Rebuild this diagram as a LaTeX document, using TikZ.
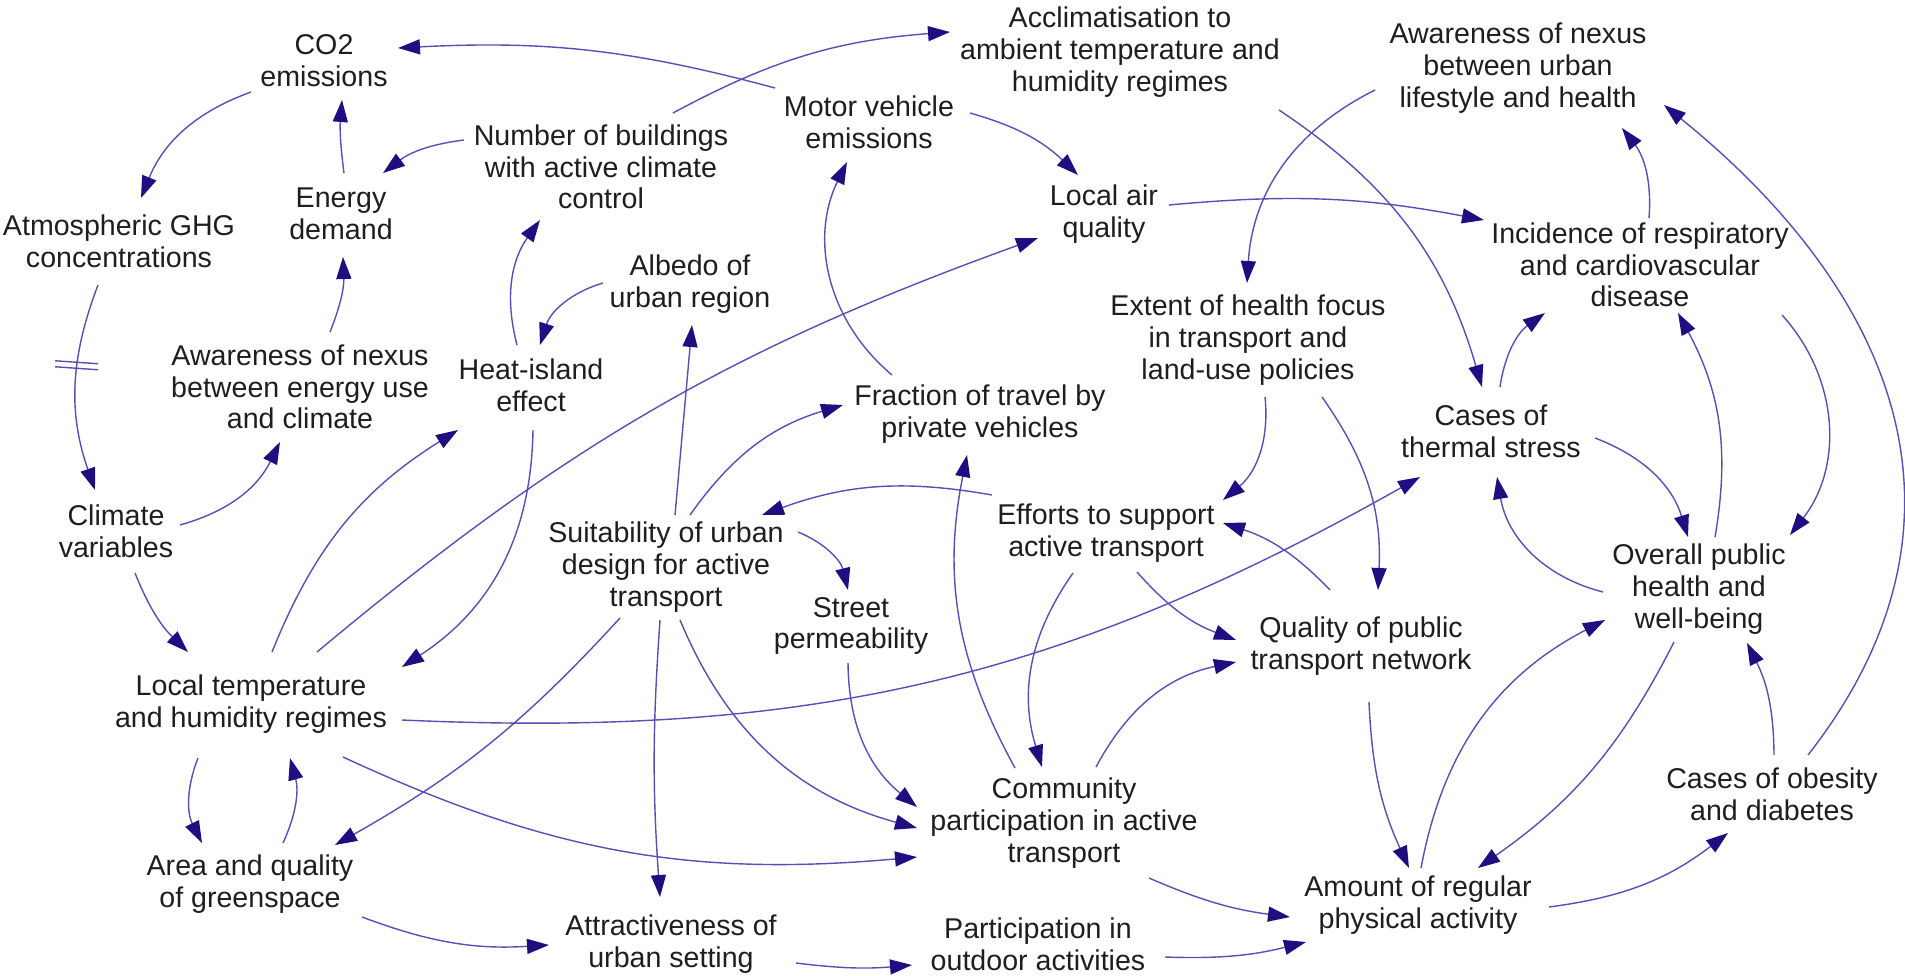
\documentclass[tikz,border=0pt]{standalone}
\usepackage{fontspec}
\setmainfont{Liberation Sans}
\usetikzlibrary{arrows.meta}
\definecolor{linec}{RGB}{88,78,182}
\definecolor{headc}{RGB}{30,14,128}
\definecolor{txtc}{RGB}{30,30,30}
\newcommand\lblfont{\fontsize{28.6}{31.7}\selectfont}
\newcommand\mknode[4]{\node[lbl] (#1) at (#2,-#3) {#4};\expandafter\gdef\csname cx#1\endcsname{#2}\expandafter\gdef\csname cy#1\endcsname{#3}}
\newcommand\link[7]{\draw[arr] ([shift={(#2-\csname cx#1\endcsname,\csname cy#1\endcsname-#3)}]#1.center) to[#4] ([shift={(#6-\csname cx#5\endcsname,\csname cy#5\endcsname-#7)}]#5.center);}
\begin{document}
\begin{tikzpicture}[x=1pt,y=1pt,
  lbl/.style={align=center,inner sep=0pt,font=\lblfont,text=txtc},
  arr/.style={draw=linec,line width=1.4pt,-{Triangle[length=22pt,width=15pt,color=headc]}},
  hashst/.style={draw=linec,line width=1.4pt}]
\useasboundingbox (0,0) rectangle (1905,-975);
\mknode{CO}{324}{61}{CO2\\emissions}
\mknode{GHG}{119}{241}{Atmospheric GHG\\concentrations}
\mknode{ED}{341}{214}{Energy\\demand}
\mknode{NB}{601}{167}{Number of buildings\\with active climate\\control}
\mknode{AE}{300}{387}{Awareness of nexus\\between energy use\\and climate}
\mknode{CV}{116}{531}{Climate\\variables}
\mknode{HI}{531}{385}{Heat-island\\effect}
\mknode{AL}{690}{284}{Albedo of\\urban region}
\mknode{MV}{869}{122}{Motor vehicle\\emissions}
\mknode{AC}{1120}{52}{Acclimatisation to\\ambient temperature and\\humidity regimes}
\mknode{LA}{1104}{214}{Local air\\quality}
\mknode{FR}{980}{414}{Fraction of travel by\\private vehicles}
\mknode{AU}{1518}{68}{Awareness of nexus\\between urban\\lifestyle and health}
\mknode{IN}{1640}{265}{Incidence of respiratory\\and cardiovascular\\disease}
\mknode{EX}{1248}{340}{Extent of health focus\\in transport and\\land-use policies}
\mknode{TS}{1491}{431}{Cases of\\thermal stress}
\mknode{EF}{1106}{533}{Efforts to support\\active transport}
\mknode{SU}{666}{567}{Suitability of urban\\design for active\\transport}
\mknode{SP}{851}{626}{Street\\permeability}
\mknode{LT}{251}{704}{Local temperature\\and humidity regimes}
\mknode{AG}{250}{884}{Area and quality\\of greenspace}
\mknode{AT}{671}{944}{Attractiveness of\\urban setting}
\mknode{PO}{1038}{944}{Participation in\\outdoor activities}
\mknode{CP}{1064}{823}{Community\\participation in active\\transport}
\mknode{QP}{1361}{646}{Quality of public\\transport network}
\mknode{OP}{1699}{589}{Overall public\\health and\\well-being}
\mknode{OB}{1772}{794}{Cases of obesity\\and diabetes}
\mknode{AM}{1418}{905}{Amount of regular\\physical activity}
% connectors
\link{CO}{251}{92}{bend right=24}{GHG}{141}{198}
\link{ED}{344}{173}{bend left=6}{CO}{342}{100}
\link{NB}{464}{140}{bend right=15}{ED}{383}{173}
\link{AE}{330}{332}{bend right=12}{ED}{343}{257}
\link{HI}{517}{345}{bend left=25}{NB}{540}{220}
\link{AL}{603}{283}{bend right=28}{HI}{540}{345}
\draw[arr] ([shift={(-21,-44)}]GHG.center) to[bend right=20] coordinate[pos=0.39] (hash) ([shift={(-21,41)}]CV.center);
\draw[hashst] ([shift={(-22,5)}]hash) -- ([shift={(21,2)}]hash);
\draw[hashst] ([shift={(-22,-1)}]hash) -- ([shift={(21,-4)}]hash);
\link{CV}{180}{525}{bend right=24}{AE}{280}{442}
\link{CV}{135}{573}{bend right=12}{LT}{188}{652}
\link{LT}{272}{652}{bend left=18}{HI}{458}{430}
\link{LT}{317}{652}{bend left=10}{LA}{1038}{238}
\link{HI}{533}{430}{bend left=28}{LT}{402}{667}
\link{NB}{673}{113}{bend left=12}{AC}{950}{32}
\link{MV}{775}{88}{bend right=9}{CO}{398}{48}
\link{MV}{970}{113}{bend left=14}{LA}{1078}{175}
\link{FR}{892}{375}{bend left=38}{MV}{847}{162}
\link{SU}{675}{515}{bend left=0}{AL}{692}{325}
\link{SU}{690}{515}{bend left=19}{FR}{843}{405}
\link{EF}{992}{495}{bend right=15}{SU}{762}{515}
\link{SU}{798}{532}{bend left=27}{SP}{848}{590}
\link{SU}{620}{618}{bend left=9}{AG}{335}{845}
\link{SU}{660}{620}{bend right=4}{AT}{660}{897}
\link{SU}{680}{620}{bend right=26}{CP}{917}{828}
\link{SP}{848}{663}{bend right=25}{CP}{917}{807}
\link{LT}{343}{757}{bend right=15}{CP}{917}{857}
\link{LT}{402}{720}{bend right=16}{TS}{1420}{477}
\link{CP}{1015}{768}{bend left=20}{FR}{967}{455}
\link{EX}{1265}{397}{bend left=28}{EF}{1223}{500}
\link{EX}{1322}{397}{bend left=19}{QP}{1378}{590}
\link{QP}{1330}{590}{bend right=14}{EF}{1223}{523}
\link{EF}{1137}{572}{bend right=14}{QP}{1236}{640}
\link{EF}{1073}{573}{bend right=26}{CP}{1042}{767}
\link{CP}{1096}{767}{bend left=25}{QP}{1236}{662}
\link{CP}{1149}{878}{bend right=8}{AM}{1290}{917}
\link{PO}{1165}{957}{bend right=8}{AM}{1306}{942}
\link{AT}{796}{963}{bend right=6}{PO}{912}{965}
\link{AG}{362}{917}{bend right=12}{AT}{549}{945}
\link{LT}{198}{758}{bend right=24}{AG}{202}{843}
\link{AG}{283}{843}{bend right=20}{LT}{290}{758}
\link{AC}{1279}{110}{bend left=20}{TS}{1482}{387}
\link{AU}{1375}{90}{bend right=30}{EX}{1247}{283}
\link{LA}{1169}{205}{bend left=8}{IN}{1484}{220}
\link{IN}{1649}{218}{bend right=21}{AU}{1622}{128}
\link{OB}{1808}{755}{out=52,in=-39,looseness=1.14}{AU}{1664}{105}
\link{TS}{1500}{387}{bend left=23}{IN}{1545}{313}
\link{TS}{1595}{438}{bend left=26}{OP}{1688}{537}
\link{OP}{1715}{537}{bend right=19}{IN}{1678}{313}
\link{IN}{1782}{315}{bend left=40}{OP}{1790}{535}
\link{OP}{1603}{592}{bend left=33}{TS}{1497}{477}
\link{AM}{1421}{868}{bend left=26}{OP}{1605}{620}
\link{OP}{1674}{642}{bend left=14}{AM}{1478}{868}
\link{OB}{1774}{755}{bend right=13}{OP}{1747}{643}
\link{AM}{1549}{907}{bend right=15}{OB}{1728}{833}
\link{QP}{1369}{702}{bend right=11}{AM}{1409}{868}
\end{tikzpicture}
\end{document}
